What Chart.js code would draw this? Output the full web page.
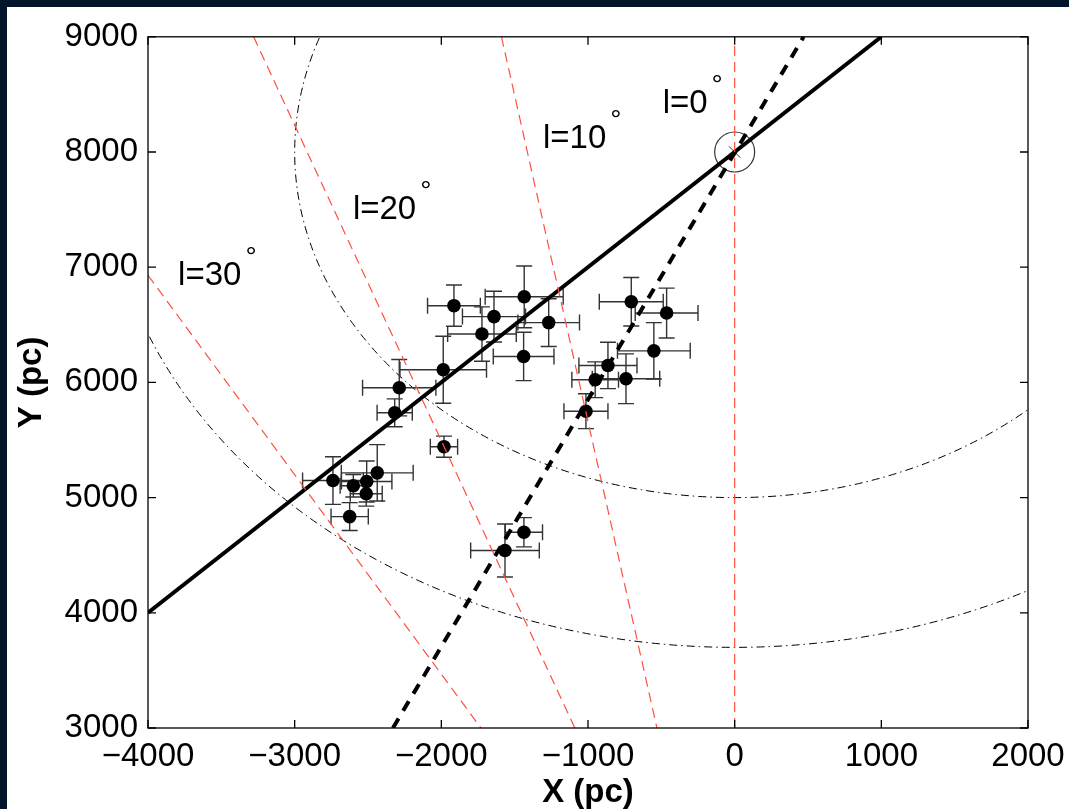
<!DOCTYPE html>
<html>
<head>
<meta charset="utf-8">
<script src="https://cdn.jsdelivr.net/npm/chart.js@4.4.1/dist/chart.umd.min.js"></script>
<style>
  html, body { margin: 0; padding: 0; background: #021429; width: 1069px; height: 809px; overflow: hidden; }
  #wrap { position: absolute; left: 7px; top: 7px; width: 1062px; height: 802px; background: #fff; }
</style>
</head>
<body>
<div id="wrap"><canvas id="chart" width="1062" height="802"></canvas></div>
<script>
// estrelas (X, Y em pc) e barras de erro
const starX = [-1914, -1641, -1435, -1723, -1268, -1439, -1987, -2287, -2318, -1982, -2739, -2600, -2509,
               -2437, -2512, -2625, -1566, -1437, -705, -464, -551, -864, -951, -741, -1014];
const starY = [6666, 6571, 6743, 6420, 6519, 6225, 6110, 5954, 5736, 5442, 5148, 5103, 5140,
               5215, 5033, 4835, 4541, 4699, 6700, 6602, 6274, 6147, 6023, 6032, 5750];
const errX = [180, 215, 266, 234, 210, 207, 295, 250, 120, 93, 207, 90, 172,
              245, 109, 127, 234, 127, 218, 214, 248, 198, 159, 230, 150];
const errY = [179, 220, 268, 236, 207, 210, 291, 245, 121, 92, 207, 98, 178,
              245, 107, 121, 230, 127, 210, 216, 245, 201, 155, 216, 151];

// Sol e circulos em volta dele (dash-dot)
const sunX = [0];
const sunY = [8000];
const ringRadii = [3000, 4300];

// retas: cheia e tracejada grossa
const solidX = [-4000, 1000];
const solidY = [4000, 9000];
const dashX = [-2330, 470];
const dashY = [3000, 9000];

// linhas de longitude (vermelhas)
const lonLinesX = [[0, 0], [-1590, -530], [-3280, -1090], [-4000, -1730]];
const lonLinesY = [[3000, 9000], [9000, 3000], [9000, 3000], [6930, 3000]];
const lonLabels = ['l=0', 'l=10', 'l=20', 'l=30'];
const lonLabelX = [-491, -1307, -2603, -3795];
const lonLabelY = [8335, 8033, 7420, 6847];

const xTicks = [-4000, -3000, -2000, -1000, 0, 1000, 2000];
const yTicks = [3000, 4000, 5000, 6000, 7000, 8000, 9000];

const FONT = "'Liberation Sans', Arial, Helvetica, sans-serif";
const pts = (xs, ys) => xs.map((v, i) => ({ x: v, y: ys[i] }));

// --- barras de erro + circulos ---
const underlay = {
  id: 'underlay',
  beforeDatasetsDraw(chart) {
    const { ctx, chartArea: a, scales: { x, y } } = chart;
    ctx.save();
    ctx.beginPath();
    ctx.rect(a.left, a.top, a.right - a.left, a.bottom - a.top);
    ctx.clip();

    // circulos centrados no Sol
    ctx.strokeStyle = '#000';
    ctx.lineWidth = 1;
    ctx.setLineDash([8, 4, 1.5, 4]);
    const cx = x.getPixelForValue(sunX[0]);
    const cy = y.getPixelForValue(sunY[0]);
    ringRadii.forEach(r => {
      const rx = x.getPixelForValue(sunX[0] + r) - cx;
      const ry = cy - y.getPixelForValue(sunY[0] + r);
      ctx.beginPath();
      ctx.ellipse(cx, cy, rx, ry, 0, 0, Math.PI * 2);
      ctx.stroke();
    });
    ctx.setLineDash([]);

    // barras de erro
    ctx.strokeStyle = '#333';
    ctx.lineWidth = 1.4;
    const cap = 8;
    starX.forEach((sx, i) => {
      const px = x.getPixelForValue(sx);
      const py = y.getPixelForValue(starY[i]);
      const x0 = x.getPixelForValue(sx - errX[i]);
      const x1 = x.getPixelForValue(sx + errX[i]);
      const y0 = y.getPixelForValue(starY[i] - errY[i]);
      const y1 = y.getPixelForValue(starY[i] + errY[i]);
      ctx.beginPath();
      ctx.moveTo(x0, py); ctx.lineTo(x1, py);
      ctx.moveTo(x0, py - cap); ctx.lineTo(x0, py + cap);
      ctx.moveTo(x1, py - cap); ctx.lineTo(x1, py + cap);
      ctx.moveTo(px, y0); ctx.lineTo(px, y1);
      ctx.moveTo(px - cap, y0); ctx.lineTo(px + cap, y0);
      ctx.moveTo(px - cap, y1); ctx.lineTo(px + cap, y1);
      ctx.stroke();
    });
    ctx.restore();
  }
};

// --- caixa, ticks internos e rotulos l= ---
const overlay = {
  id: 'overlay',
  afterDraw(chart) {
    const { ctx, chartArea: a, scales: { x, y } } = chart;
    ctx.save();
    ctx.strokeStyle = '#000';
    ctx.lineWidth = 1.3;
    ctx.strokeRect(a.left, a.top, a.right - a.left, a.bottom - a.top);
    ctx.beginPath();
    xTicks.forEach(v => {
      const p = x.getPixelForValue(v);
      ctx.moveTo(p, a.bottom); ctx.lineTo(p, a.bottom - 8);
      ctx.moveTo(p, a.top); ctx.lineTo(p, a.top + 8);
    });
    yTicks.forEach(v => {
      const p = y.getPixelForValue(v);
      ctx.moveTo(a.left, p); ctx.lineTo(a.left + 8, p);
      ctx.moveTo(a.right, p); ctx.lineTo(a.right - 8, p);
    });
    ctx.stroke();

    ctx.fillStyle = '#000';
    ctx.textAlign = 'left';
    ctx.textBaseline = 'alphabetic';
    lonLabels.forEach((t, i) => {
      const px = x.getPixelForValue(lonLabelX[i]);
      const py = y.getPixelForValue(lonLabelY[i]);
      ctx.font = '33px ' + FONT;
      ctx.fillText(t, px, py);
      const w = ctx.measureText(t).width;
      ctx.font = '28px ' + FONT;
      ctx.fillText('°', px + w + 4, py - 19);
    });
    ctx.restore();
  }
};

const minus = v => (v < 0 ? '\u2212' + Math.abs(v) : String(v));

new Chart(document.getElementById('chart'), {
  type: 'scatter',
  data: {
    datasets: [
      ...lonLinesX.map((lx, i) => ({
        data: pts(lx, lonLinesY[i]),
        showLine: true,
        borderColor: '#ff5040',
        borderWidth: 1.2,
        borderDash: [10, 6],
        pointRadius: 0
      })),
      {
        data: pts(solidX, solidY),
        showLine: true,
        borderColor: '#000',
        borderWidth: 4,
        pointRadius: 0
      },
      {
        data: pts(dashX, dashY),
        showLine: true,
        borderColor: '#000',
        borderWidth: 4,
        borderDash: [11, 9],
        pointRadius: 0
      },
      {
        data: pts(starX, starY),
        pointRadius: 6.8,
        pointBackgroundColor: '#000',
        pointBorderWidth: 0
      },
      {
        data: pts(sunX, sunY),
        pointStyle: 'crossRot',
        pointRadius: 8,
        pointBorderColor: '#333',
        pointBorderWidth: 1
      },
      {
        data: pts(sunX, sunY),
        pointStyle: 'circle',
        pointRadius: 20,
        pointBackgroundColor: 'rgba(0,0,0,0)',
        pointBorderColor: '#333',
        pointBorderWidth: 1.2
      }
    ]
  },
  options: {
    responsive: false,
    animation: false,
    devicePixelRatio: 1,
    events: [],
    layout: { padding: { top: 26, right: 41, left: 0, bottom: 0 } },
    plugins: { legend: { display: false }, tooltip: { enabled: false } },
    scales: {
      x: {
        type: 'linear',
        min: -4000,
        max: 2000,
        afterFit: s => { s.height = 81; },
        // ticks invisiveis so para afastar os rotulos (o padding empurra a area do grafico)
        grid: { display: true, drawOnChartArea: false, drawTicks: true, tickLength: 9, color: 'rgba(0,0,0,0)' },
        border: { display: false },
        ticks: { stepSize: 1000, padding: 0, color: '#000', font: { size: 33, family: FONT }, callback: minus, maxRotation: 0 },
        title: { display: true, text: 'X (pc)', color: '#000', padding: 0, font: { size: 33, weight: 'bold', family: FONT, lineHeight: 1 } }
      },
      y: {
        type: 'linear',
        min: 3000,
        max: 9000,
        afterFit: s => { s.width = 141; },
        grid: { display: false, drawTicks: false },
        border: { display: false },
        ticks: { stepSize: 1000, padding: 10, color: '#000', font: { size: 33, family: FONT }, callback: minus },
        title: { display: true, text: 'Y (pc)', color: '#000', padding: { top: 8 }, font: { size: 33, weight: 'bold', family: FONT, lineHeight: 1 } }
      }
    }
  },
  plugins: [underlay, overlay]
});
</script>
</body>
</html>
